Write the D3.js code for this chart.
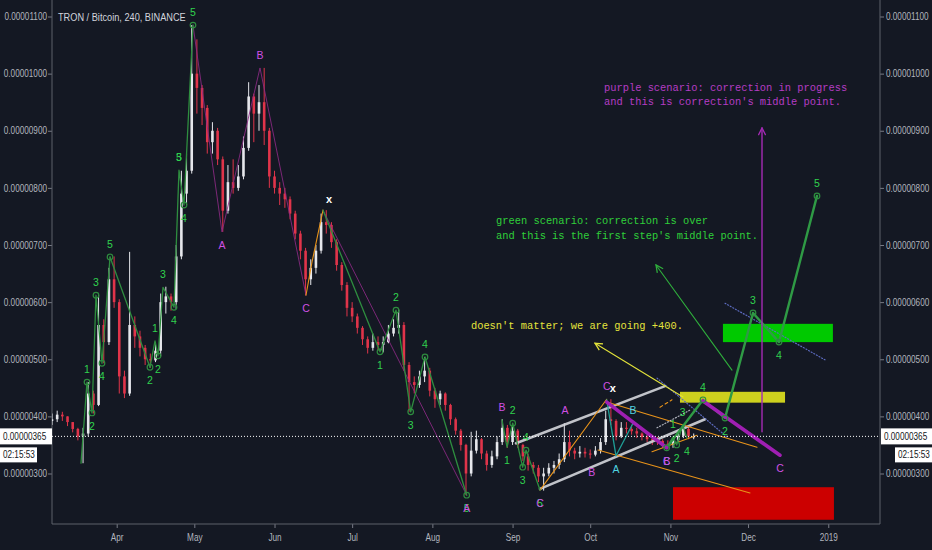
<!DOCTYPE html>
<html><head><meta charset="utf-8">
<script src="https://cdn.jsdelivr.net/npm/d3@7"></script>
<style>
html,body{margin:0;padding:0;background:#141823;}
svg{display:block;}
</style></head><body>
<svg id="chart" width="932" height="550"></svg>
<script>
// ---------- DATA ----------
const title = "TRON / Bitcoin, 240, BINANCE";
const startDate = Date.UTC(2018, 2, 7);   // first candle
const candleStepDays = 2;
const firstOpen = 392;                      // values in satoshi (1e-8 BTC)
const candleClose = [395,403,400,390,378,365,370,440,420,560,530,640,600,470,440,560,540,520,500,498,
515,600,610,600,680,790,830,1000,975,940,880,900,850,760,810,800,820,870,960,930,
950,900,820,800,790,780,755,720,690,640,660,690,740,735,705,665,630,590,575,555,
535,520,530,525,530,545,555,560,490,460,455,470,480,445,430,440,420,395,375,350,
300,340,360,335,315,330,355,380,355,375,350,330,315,310,295,300,310,315,325,355,
340,335,338,335,333,340,355,395,392,365,380,378,374,370,364,360,358,357,352,350,
358,366,378,365,365];
const candleHigh = [405,410,408,400,390,380,380,460,445,612,570,660,680,605,480,688,575,550,525,510,
530,615,627,615,700,830,860,1085,1060,980,945,915,905,855,840,850,840,890,985,965,
980,1010,905,830,810,800,785,760,725,695,675,700,755,761,740,710,670,635,600,580,
558,540,545,540,540,560,570,587,565,495,470,480,504,485,450,445,442,422,398,378,
352,373,375,362,340,340,365,395,385,388,378,352,335,320,315,310,318,322,335,388,
375,345,348,345,342,348,362,410,430,395,390,390,385,380,372,368,365,364,360,358,
362,372,386,382,370];
const candleLow = [385,390,392,383,372,358,318,365,405,418,493,525,590,440,432,436,520,505,490,485,
495,505,580,585,588,675,770,825,930,910,860,860,840,723,755,790,795,815,865,880,
900,875,800,790,770,765,745,710,675,612,630,650,685,720,695,655,620,575,565,545,
525,510,515,515,512,528,540,545,480,408,440,450,460,435,415,420,410,385,368,340,
262,295,335,325,305,310,325,350,345,350,345,322,305,300,285,270,295,300,308,320,
330,325,328,328,326,330,335,350,385,358,362,370,368,362,358,355,350,350,345,343,
345,355,362,360,360];
const lastPrice = 365;
const countdown = "02:15:53";

const yTicks = [300,400,500,600,700,800,900,1000,1100];
const xTickDates = ["2018-04-01","2018-05-01","2018-06-01","2018-07-01","2018-08-01","2018-09-01","2018-10-01","2018-11-01","2018-12-01","2019-01-01"];
const xTickLabels = ["Apr","May","Jun","Jul","Aug","Sep","Oct","Nov","Dec","2019"];

// drawings: points are [days since startDate, price in satoshi]
const greenWave1   = [[11.21,318],[13.53,460],[15.46,406],[17.00,612],[19.32,493],[22.42,679]];
const greenLink1   = [[22.42,679],[37.87,486]];
const greenWave2   = [[37.87,486],[39.81,532],[40.97,506],[42.90,626],[47.15,591],[49.08,831],[51.01,770],[54.49,1085]];
const purpleABC1   = [[54.49,1085],[65.70,723],[80.39,1010],[98.16,612]];
const orangeX1     = [[98.16,612],[100.48,670],[104.73,761]];
const greenWave3   = [[104.73,761],[126.76,513],[132.95,586],[138.63,408],[144.15,504],[160.27,262]];
const purpleLink1  = [[104.73,761],[160.27,262]];
const greenWave4   = [[173.91,394],[175.85,346],[178.05,388],[181.91,311],[183.19,341],[188.60,271]];
const orangeUp     = [[188.60,271],[214.38,430]];
const orangeUpper  = [[214.38,425],[272.46,346]];
const orangeLower  = [[211.01,341],[269.76,266]];
const orangeShort  = [[231.88,338],[249.28,367]];
const orangeDash   = [[234.98,416],[239.61,429]];
const whiteUpper   = [[179.32,353],[236.91,453]];
const whiteLower   = [[188.60,273],[252.37,395]];
const purpleThick1 = [[214.38,425],[237.56,345]];
const purpleThick2 = [[251.59,427],[281.35,332]];
const tealABC      = [[214.38,429],[217.97,331],[224.54,388]];
const greenSmall   = [[237.56,345],[240.00,364],[241.43,350],[243.75,385],[245.41,362]];
const greenProj    = [[237.56,345],[251.59,429],[260.10,397],[270.92,581],[280.97,530],[295.65,786]];
const dottedBlue1  = [[233.82,467],[260.87,364]];
const dottedBlue2  = [[260.10,598],[298.74,499]];
const dottedGray   = [[233.82,380],[246.57,411]];
const yellowArrow  = [[243.87,434],[209.86,528]];
const greenArrow   = [[262.80,481],[233.43,665]];
const purpleArrow  = [[274.40,373],[274.40,905]];

const yellowBox = [[242.7,424],[283.3,443]];
const greenBox  = [[259.3,530],[301.8,562]];
const redBox    = [[240.0,219],[302.2,276]];

const waveLabels = [
 ["1",13.53,460,"above","g"],["2",15.46,406,"below","g"],["3",17.00,612,"above","g"],["4",19.32,493,"below","g"],["5",22.42,679,"above","g"],
 ["2",37.87,486,"below","g"],["1",39.81,532,"above","g"],["2",40.97,506,"below","g"],["3",42.90,626,"above","g"],["4",47.15,591,"below","g"],
 ["5",49.08,831,"above","g"],["3",49.08,831,"above","g"],["4",51.01,770,"below","g"],["5",54.49,1085,"above","g"],
 ["A",65.70,723,"below","m"],["B",80.39,1010,"above","m"],["C",98.16,612,"below","m"],["x",104.73,761,"aboveRight","w"],
 ["1",126.76,513,"below","g"],["2",132.95,586,"above","g"],["3",138.63,408,"below","g"],["4",144.15,504,"above","g"],
 ["5",160.27,262,"below","g"],["A",160.27,262,"below","m"],
 ["B",173.91,394,"above","m"],["1",175.85,346,"below","g"],["2",178.05,388,"above","g"],["3",181.91,311,"below","g"],["4",183.19,341,"above","g"],
 ["5",188.60,271,"below","g"],["C",188.60,271,"below","m"],
 ["A",198.26,388,"above","m"],["B",208.58,325,"below","m"],["C",214.38,430,"above","m"],["x",214.38,430,"aboveRight","w"],
 ["A",217.97,331,"below","t"],["B",224.54,388,"above","t"],
 ["C",237.56,345,"below","b"],["B",237.56,345,"below","m"],
 ["1",240.00,364,"above","g"],["2",241.43,350,"below","g"],["3",243.75,385,"above","g"],["4",245.41,362,"below","g"],
 ["4",251.59,429,"above","g"],["2",260.10,397,"below","g"],["3",270.92,581,"above","g"],["4",280.97,530,"below","g"],["5",295.65,786,"above","g"],
 ["C",281.35,332,"below","m"]
];
const circlePoints = [
 [13.53,460],[15.46,406],[17.00,612],[19.32,493],[22.42,679],[37.87,486],[40.97,506],[47.15,591],[51.01,770],[54.49,1085],
 [126.76,513],[132.95,586],[138.63,408],[144.15,504],[160.27,262],[178.05,388],[181.91,311],[183.19,341],
 [237.56,345],[241.43,350],[251.59,429],[260.10,397],[270.92,581],[280.97,530],[295.65,786]
];
const purpleNote = ["purple scenario: correction in progress","and this is correction's middle point."];
const purpleNoteAt = [213.33,975];
const greenNote = ["green scenario: correction is over","and this is the first step's middle point."];
const greenNoteAt = [171.6,742];
const yellowNote = "doesn't matter; we are going +400.";
const yellowNoteAt = [161.9,558];

// ---------- CHART ----------
const W = 932, H = 550;
const L = 52, R = 880, T = 0, B = 524;
const DAY = 86400000;
const svg = d3.select("#chart");
svg.append("rect").attr("width", W).attr("height", H).attr("fill", "#141823");

const x = d3.scaleUtc().domain([new Date(startDate), new Date(startDate + 320 * DAY)]).range([L, R]);
const y = d3.scaleLinear().domain([211.6, 1128.9]).range([B, T]);
const X = d => x(new Date(startDate + d * DAY));

const defs = svg.append("defs");
defs.append("clipPath").attr("id", "plot").append("rect").attr("x", L).attr("y", T).attr("width", R - L).attr("height", B - T);
function marker(id, color) {
  defs.append("marker").attr("id", id).attr("viewBox", "0 0 10 10").attr("refX", 9).attr("refY", 5)
    .attr("markerWidth", 9).attr("markerHeight", 9).attr("orient", "auto-start-reverse").attr("markerUnits", "userSpaceOnUse")
    .append("path").attr("d", "M1,1 L9,5 L1,9").attr("fill", "none").attr("stroke", color).attr("stroke-width", 1.4);
}
marker("arrY", "#e2e23a"); marker("arrG", "#2fae3c"); marker("arrP", "#a52ab5");

const axisFont = "'Liberation Sans',Arial,sans-serif";
const monoFont = "'Courier New','Liberation Mono','DejaVu Sans Mono',monospace";
const labelFont = "'Liberation Sans',Arial,sans-serif";
// narrow look: compress glyphs horizontally around the text's anchor x
function narrow(sel, k) {
  sel.each(function () {
    const x0 = +(this.getAttribute("x") || 0);
    d3.select(this).attr("transform", `translate(${x0},0) scale(${k},1) translate(${-x0},0)`);
  });
}

// axes
const fmt = v => (v * 1e-8).toFixed(8);
const ax = (g) => {
  g.select(".domain").remove();
  g.selectAll(".tick line").attr("stroke", "#787b86");
  g.selectAll("text").attr("fill", "#b2b5be").style("font-family", axisFont).style("font-size", "10px");
  narrow(g.selectAll("text"), 0.82);
};
svg.append("g").attr("transform", `translate(${L},0)`)
  .call(d3.axisLeft(y).tickValues(yTicks).tickFormat(fmt).tickSize(4).tickPadding(1)).call(ax);
svg.append("g").attr("transform", `translate(${R},0)`)
  .call(d3.axisRight(y).tickValues(yTicks).tickFormat(fmt).tickSize(4).tickPadding(2)).call(ax);
const xDates = xTickDates.map(s => new Date(s + "T00:00:00Z"));
svg.append("g").attr("transform", `translate(0,${B})`)
  .call(d3.axisBottom(x).tickValues(xDates).tickFormat((d, i) => xTickLabels[i]).tickSize(4).tickPadding(6)).call(ax);
svg.append("line").attr("x1", L).attr("x2", L).attr("y1", 0).attr("y2", B).attr("stroke", "#5d606b");
svg.append("line").attr("x1", R).attr("x2", R).attr("y1", 0).attr("y2", B).attr("stroke", "#5d606b");
svg.append("line").attr("x1", L).attr("x2", R).attr("y1", B).attr("y2", B).attr("stroke", "#5d606b");

const plot = svg.append("g").attr("clip-path", "url(#plot)");

// candles
const candles = candleClose.map((c, i) => ({
  d: i * candleStepDays, o: i === 0 ? firstOpen : candleClose[i - 1], h: candleHigh[i], l: candleLow[i], c
}));
const cg = plot.append("g");
candles.forEach(k => {
  const up = k.c >= k.o;
  const col = up ? "#e6e7ec" : "#e0344a";
  const cx = X(k.d);
  cg.append("line").attr("x1", cx).attr("x2", cx).attr("y1", y(k.h)).attr("y2", y(k.l)).attr("stroke", col).attr("stroke-width", 1);
  const top = y(Math.max(k.o, k.c)), bot = y(Math.min(k.o, k.c));
  cg.append("rect").attr("x", cx - 1.3).attr("y", top).attr("width", 2.6).attr("height", Math.max(1, bot - top)).attr("fill", col);
});

// boxes
function box(b, color) {
  plot.append("rect").attr("x", X(b[0][0])).attr("y", y(b[1][1])).attr("width", X(b[1][0]) - X(b[0][0]))
    .attr("height", y(b[0][1]) - y(b[1][1])).attr("fill", color);
}
box(redBox, "#cc0000"); box(yellowBox, "#cdd01e"); box(greenBox, "#00c900");

const lineGen = d3.line().x(p => X(p[0])).y(p => y(p[1]));
function draw(pts, color, width, extra) {
  const p = plot.append("path").attr("d", lineGen(pts)).attr("fill", "none").attr("stroke", color)
    .attr("stroke-width", width).attr("stroke-linejoin", "round").attr("stroke-linecap", "round");
  if (extra) extra(p);
  return p;
}
draw(whiteUpper, "#d4d6dc", 2.6, p => p.attr("opacity", 0.9));
draw(whiteLower, "#d4d6dc", 2.6, p => p.attr("opacity", 0.9));
draw(purpleABC1, "#8e2a86", 1, p => p.attr("opacity", 0.85));
draw(purpleLink1, "#8e2a86", 1, p => p.attr("opacity", 0.85));
draw(orangeX1, "#e8931a", 1.1);
draw(orangeUp, "#e8931a", 1.1);
draw(orangeUpper, "#e8931a", 1.1);
draw(orangeLower, "#e8931a", 1.1);
draw(orangeShort, "#e8931a", 1.1);
draw(orangeDash, "#e8931a", 1.1, p => p.attr("stroke-dasharray", "3,3"));
draw(dottedBlue1, "#5c6bc0", 1.2, p => p.attr("stroke-dasharray", "1,2"));
draw(dottedBlue2, "#5c6bc0", 1.2, p => p.attr("stroke-dasharray", "1,2"));
draw(dottedGray, "#b0b3bd", 1.2, p => p.attr("stroke-dasharray", "1,2"));
draw(tealABC, "#1f9e96", 1.3);
[greenWave1, greenLink1, greenWave2, greenWave3, greenWave4, greenSmall].forEach(w => draw(w, "#2e8d3f", 1.3));
draw(greenProj, "#2f9a45", 2.4);
draw(purpleThick1, "#a01fb3", 3.6);
draw(purpleThick2, "#a01fb3", 3.6);
draw(yellowArrow, "#e2e23a", 1.1, p => p.attr("marker-end", "url(#arrY)"));
draw(greenArrow, "#2fae3c", 1.1, p => p.attr("marker-end", "url(#arrG)"));
draw(purpleArrow, "#a52ab5", 1.4, p => p.attr("marker-end", "url(#arrP)"));

plot.selectAll("circle.wp").data(circlePoints).enter().append("circle")
  .attr("cx", p => X(p[0])).attr("cy", p => y(p[1])).attr("r", 2.8)
  .attr("fill", "none").attr("stroke", "#2e8d3f").attr("stroke-width", 1.2);

// current price line
svg.append("line").attr("x1", L).attr("x2", R).attr("y1", y(lastPrice)).attr("y2", y(lastPrice))
  .attr("stroke", "#ffffff").attr("stroke-width", 1).attr("stroke-dasharray", "1,2");

// wave labels
const colors = { g: "#30d24e", m: "#d050e4", t: "#4fd3e0", w: "#ffffff", b: "#7f8cf0" };
waveLabels.forEach(([t, d, v, pos, c]) => {
  let dx = 0, dy = pos === "above" ? -13 : 13;
  if (pos === "aboveRight") { dx = 6; dy = -11; }
  svg.append("text").attr("x", X(d) + dx).attr("y", y(v) + dy).attr("text-anchor", "middle")
    .attr("dominant-baseline", "central").attr("fill", colors[c])
    .style("font-family", labelFont).style("font-size", c === "w" ? "11px" : "10.5px")
    .style("font-weight", c === "w" ? "bold" : "normal").text(t);
});

// notes
function note(lines, at, color) {
  lines.forEach((s, i) => {
    svg.append("text").attr("x", X(at[0])).attr("y", y(at[1]) + i * 14.5).attr("dominant-baseline", "central")
      .attr("fill", color).style("font-family", monoFont).style("font-size", "10.4px")
      .attr("xml:space", "preserve").text(s);
  });
}
note(purpleNote, purpleNoteAt, "#b43cc4");
note(greenNote, greenNoteAt, "#2fcf3a");
note([yellowNote], yellowNoteAt, "#e4e43c");

// title
const tt = svg.append("text").attr("x", 58).attr("y", 17).attr("dominant-baseline", "central").attr("fill", "#d1d4dc")
  .style("font-family", axisFont).style("font-size", "11.5px").text(title);
narrow(tt, 0.8);

// price / countdown tags
function tag(x0, y0, w, h, txt) {
  svg.append("rect").attr("x", x0).attr("y", y0).attr("width", w).attr("height", h).attr("fill", "#ffffff");
  const t = svg.append("text").attr("x", x0 + 3).attr("y", y0 + h / 2).attr("dominant-baseline", "central").attr("fill", "#131722")
    .style("font-family", axisFont).style("font-size", "10px").text(txt);
  narrow(t, 0.82);
}
const py = y(lastPrice);
tag(0, py - 8, L, 16, fmt(lastPrice));
tag(R + 1, py - 8, W - R - 1, 16, fmt(lastPrice));
tag(0, py + 11, 37, 15, countdown);
tag(895, py + 11, 37, 15, countdown);
</script>
</body></html>
